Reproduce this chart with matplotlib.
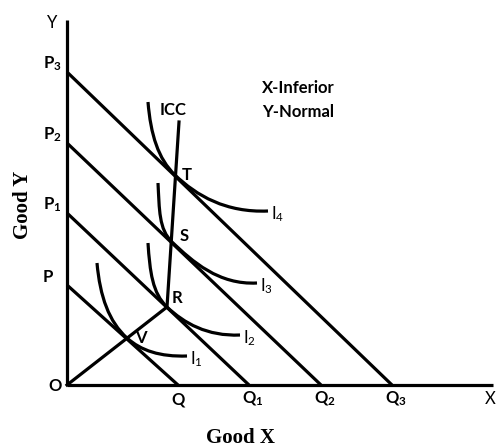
import matplotlib
matplotlib.use("Agg")
import matplotlib.pyplot as plt
from matplotlib.path import Path
from matplotlib.patches import PathPatch
import numpy as np

plt.rcParams['font.family'] = ['Lato', 'DejaVu Sans']
plt.rcParams['mathtext.default'] = 'regular'

# budget lines: intercept on Y axis, intercept on X axis
price_labels = ['P', 'P$_1$', 'P$_2$', 'P$_3$']
qty_labels = ['Q', 'Q$_1$', 'Q$_2$', 'Q$_3$']
y_intercepts = [100, 172, 242, 313]
x_intercepts = [111, 182, 254, 325]

# indifference curves: start, tangency point, end
ic_labels = ['I$_1$', 'I$_2$', 'I$_3$', 'I$_4$']
ic_start = [(30, 122), (81, 142), (91, 202), (81, 283)]
ic_touch = [(60, 47), (100, 78), (105, 143), (108, 210)]
ic_end = [(120, 29), (173, 50), (190, 102), (201, 174)]
point_labels = ['V', 'R', 'S', 'T']

icc_top = (112, 263)

fig = plt.figure(figsize=(4.97, 4.48), dpi=100)
ax = fig.add_axes([0, 0, 1, 1])
ax.set_xlim(-67, 430)
ax.set_ylim(-63, 385)
ax.axis('off')

lw = 2.3
fs = 12

# axes
ax.plot([0, 0], [0, 365], color='black', lw=lw, solid_capstyle='butt')
ax.plot([0, 426], [0, 0], color='black', lw=lw, solid_capstyle='butt')
ax.text(-15, 362, 'Y', fontsize=fs, ha='center', va='center')
ax.text(423, -14, 'X', fontsize=fs, ha='center', va='center')
ax.text(-12, -1, 'O', fontsize=fs, fontweight='bold', ha='center', va='center')

# budget lines
for p, q, pl, ql in zip(y_intercepts, x_intercepts, price_labels, qty_labels):
    ax.plot([0, q], [p, 0], color='black', lw=lw, solid_capstyle='butt')
    ax.text(-24, p + 8, pl, fontsize=fs, fontweight='bold', ha='left', va='center')
    ax.text(q - 7, -14, ql, fontsize=fs, fontweight='bold', ha='left', va='center')


def curve_path(s, m, e, slope):
    # two cubic pieces, joined at the tangency point along the budget line
    s, m, e = np.array(s, float), np.array(m, float), np.array(e, float)
    d = np.array([1.0, -slope]) / np.hypot(1, slope)
    l1 = np.hypot(*(m - s))
    l2 = np.hypot(*(e - m))
    c1 = s + [0.1 * (m[0] - s[0]), -0.45 * (s[1] - m[1])]
    c2 = m - d * 0.3 * l1
    c3 = m + d * 0.3 * l2
    c4 = e - [0.45 * (e[0] - m[0]), 0.05 * (m[1] - e[1])]
    verts = [s, c1, c2, m, c3, c4, e]
    codes = [Path.MOVETO] + [Path.CURVE4] * 6
    return Path(verts, codes)


for i in range(4):
    slope = y_intercepts[i] / x_intercepts[i]
    path = curve_path(ic_start[i], ic_touch[i], ic_end[i], slope)
    ax.add_patch(PathPatch(path, facecolor='none', edgecolor='black', lw=lw))
    ex, ey = ic_end[i]
    ax.text(ex + 3, ey - 3, ic_labels[i], fontsize=fs, ha='left', va='center')

# income consumption curve
icc_x = [0, ic_touch[1][0], icc_top[0]]
icc_y = [0, ic_touch[1][1], icc_top[1]]
ax.plot(icc_x, icc_y, color='black', lw=lw, solid_joinstyle='miter')
ax.text(106, 275, 'ICC', fontsize=fs, fontweight='bold', ha='center', va='center')

offsets = [(14, 0), (10, 9), (12, 6), (12, 0)]
for (tx, ty), lab, (dx, dy) in zip(ic_touch, point_labels, offsets):
    ax.text(tx + dx, ty + dy, lab, fontsize=fs, fontweight='bold', ha='center', va='center')

ax.text(195, 285, 'X-Inferior\nY-Normal', fontsize=fs, fontweight='bold',
        ha='left', va='center', linespacing=1.55)

ax.text(173, -53, 'Good X', fontsize=15, fontweight='bold', family='Liberation Serif',
        ha='center', va='center')
ax.text(-44, 180, 'Good Y', fontsize=15, fontweight='bold', family='Liberation Serif',
        ha='center', va='center', rotation=90)

fig.savefig('out.png', dpi=100)
